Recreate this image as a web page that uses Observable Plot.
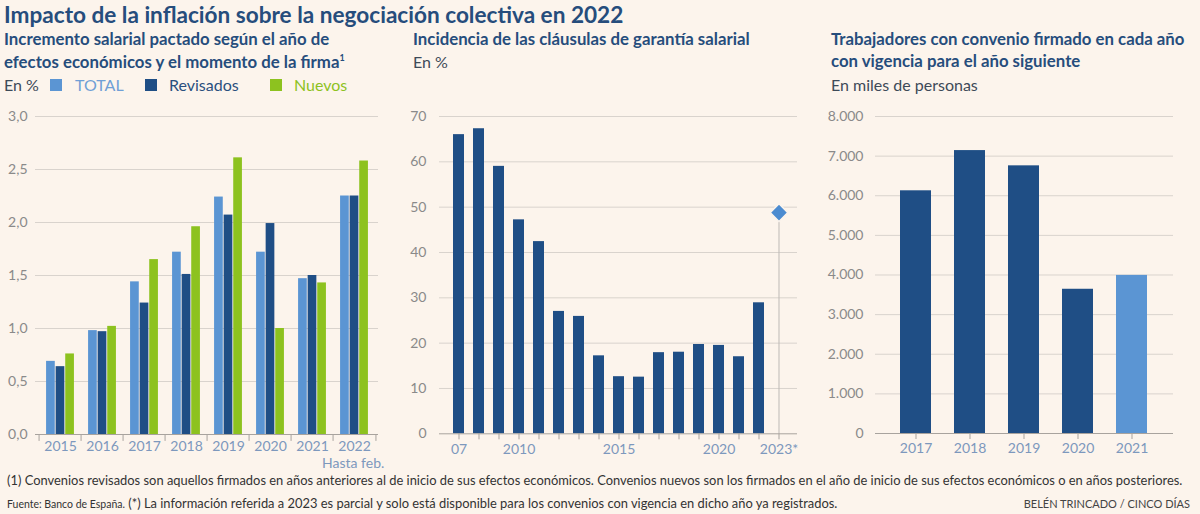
<!DOCTYPE html>
<html>
<head>
<meta charset="utf-8">
<script src="https://cdn.jsdelivr.net/npm/d3@7"></script>
<script src="https://cdn.jsdelivr.net/npm/@observablehq/plot@0.6"></script>
<style>
  html, body { margin: 0; padding: 0; }
  body { width: 1200px; height: 514px; background: #fcf4ec; position: relative; overflow: hidden; font-family: Lato, "Open Sans", sans-serif; }
  .t { position: absolute; white-space: nowrap; line-height: 1; }
  .title { font-weight: 700; font-size: 22.6px; color: #264d7c; }
  .sub { font-weight: 700; font-size: 16.8px; color: #264d7c; }
  .unit { font-size: 16px; color: #3d4a58; }
  .sw { position: absolute; width: 12px; height: 12px; }
  .foot { font-size: 12.9px; color: #333; }
  .panel { position: absolute; top: 100px; }
  .panel svg { overflow: visible; }
  [aria-label^="x-axis"] text { fill: #7d98bd; }
  [aria-label^="y-axis"] text { fill: #8a8a8a; }
  [aria-label^="x-axis"] line, [aria-label^="x-axis"] path { stroke: #a8a39e; }
</style>
</head>
<body>
<div class="t title" style="left:4px; top:4px;">Impacto de la inflación sobre la negociación colectiva en 2022</div>

<div class="t sub" style="left:4px; top:31px;">Incremento salarial pactado según el año de</div>
<div class="t sub" style="left:4px; top:53px;">efectos económicos y el momento de la firma<sup style="font-size:9px">1</sup></div>
<div class="t unit" style="left:4px; top:77px;">En %</div>
<div class="sw" style="left:50px; top:79px; background:#5b95d3;"></div>
<div class="t unit" style="left:75px; top:77px; color:#6f9fd6;">TOTAL</div>
<div class="sw" style="left:145px; top:79px; background:#1f4e85;"></div>
<div class="t unit" style="left:169px; top:77px; color:#2a4f7e;">Revisados</div>
<div class="sw" style="left:270px; top:79px; background:#8dc21f;"></div>
<div class="t unit" style="left:294px; top:77px; color:#8dc21f;">Nuevos</div>

<div class="t sub" style="left:413px; top:31px;">Incidencia de las cláusulas de garantía salarial</div>
<div class="t unit" style="left:413px; top:54px;">En %</div>

<div class="t sub" style="left:831px; top:31px;">Trabajadores con convenio firmado en cada año</div>
<div class="t sub" style="left:831px; top:53px;">con vigencia para el año siguiente</div>
<div class="t unit" style="left:831px; top:77px;">En miles de personas</div>

<div id="p1" class="panel" style="left:0px;"></div>
<div id="p2" class="panel" style="left:400px;"></div>
<div id="p3" class="panel" style="left:800px;"></div>

<div class="t" style="left:322px; top:456px; font-size:14px; color:#7d98bd;">Hasta feb.</div>

<div class="t foot" style="left:7px; top:474px;">(1) Convenios revisados son aquellos firmados en años anteriores al de inicio de sus efectos económicos. Convenios nuevos son los firmados en el año de inicio de sus efectos económicos o en años posteriores.</div>
<div class="t foot" style="left:7px; top:497px;"><span style="font-size:10.5px">Fuente: Banco de España.</span> (*) La información referida a 2023 es parcial y solo está disponible para los convenios con vigencia en dicho año ya registrados.</div>
<div class="t" style="right:10px; top:498px; font-size:11px; color:#444;">BELÉN TRINCADO / CINCO DÍAS</div>

<script>
// ---- Panel 1 data
const years1 = ["2015","2016","2017","2018","2019","2020","2021","2022"];
const total = [0.69, 0.98, 1.44, 1.72, 2.24, 1.72, 1.47, 2.25];
const revisados = [0.64, 0.97, 1.24, 1.51, 2.07, 1.99, 1.50, 2.25];
const nuevos = [0.76, 1.02, 1.65, 1.96, 2.61, 1.00, 1.43, 2.58];
const yTicks1 = [0, 0.5, 1, 1.5, 2, 2.5, 3];

// ---- Panel 2 data
const years2 = ["2007","2008","2009","2010","2011","2012","2013","2014","2015","2016","2017","2018","2019","2020","2021","2022"];
const incidencia = [66.0, 67.3, 59.0, 47.2, 42.4, 27.0, 25.9, 17.2, 12.6, 12.5, 17.9, 18.0, 19.7, 19.5, 17.0, 28.9];
const year2023 = "2023";
const incidencia2023 = 48.8;
const yTicks2 = [0, 10, 20, 30, 40, 50, 60, 70];
const xLabels2 = {"2007": "07", "2010": "2010", "2015": "2015", "2020": "2020", "2023": "2023*"};

// ---- Panel 3 data
const years3 = ["2017","2018","2019","2020","2021"];
const trabajadores = [6125, 7140, 6755, 3640, 3990];
const yTicks3 = [0, 1000, 2000, 3000, 4000, 5000, 6000, 7000, 8000];

const DARK = "#1f4e85", LIGHT = "#5b95d3", GREEN = "#8dc21f";
const GRID = "#d9d3cd", AXIS = "#a8a39e";
const commaFmt = d => d.toFixed(1).replace(".", ",");
const thousandFmt = d => d3.format(",")(d).replace(/,/g, ".");

// Panel 1
{
  const W = 390, mL = 35, mR = 12;
  const bw = (W - mL - mR) / years1.length;
  const m = bw * 0.165, w = (bw - 2 * m) / 3;
  const rows = years1.map((y, i) => ({year: y, total: total[i], revisados: revisados[i], nuevos: nuevos[i]}));
  const p = Plot.plot({
    width: W, height: 370, marginLeft: mL, marginRight: mR, marginTop: 16, marginBottom: 36,
    style: {background: "transparent", fontFamily: "Lato, sans-serif", fontSize: "14px"},
    x: {type: "band", domain: years1, padding: 0, tickSize: 0, tickPadding: 7, label: null},
    y: {domain: [0, 3], ticks: yTicks1, tickSize: 0, tickPadding: 8, tickFormat: commaFmt, label: null},
    marks: [
      Plot.ruleY(yTicks1.slice(1), {stroke: GRID}),
      Plot.barY(rows, {x: "year", y: "total", fill: LIGHT, insetLeft: m, insetRight: m + 2 * w}),
      Plot.barY(rows, {x: "year", y: "revisados", fill: DARK, insetLeft: m + w, insetRight: m + w}),
      Plot.barY(rows, {x: "year", y: "nuevos", fill: GREEN, insetLeft: m + 2 * w, insetRight: m}),
      Plot.ruleY([0], {stroke: AXIS}),
      Plot.ruleX(years1, {x: d => d, dx: -bw / 2, y1: 0, y2: -0.065, stroke: AXIS}),
      Plot.ruleX([years1[years1.length - 1]], {x: d => d, dx: bw / 2, y1: 0, y2: -0.065, stroke: AXIS})
    ]
  });
  document.getElementById("p1").append(p);
}

// Panel 2
{
  const domain2 = years2.concat([year2023]);
  const rows = years2.map((y, i) => ({year: y, v: incidencia[i]}));
  const p = Plot.plot({
    width: 400, height: 370, marginLeft: 39, marginRight: 3, marginTop: 16, marginBottom: 36.7,
    style: {background: "transparent", fontFamily: "Lato, sans-serif", fontSize: "14px"},
    x: {type: "band", domain: domain2, padding: 0.45, tickSize: 6, tickPadding: 4, tickFormat: d => xLabels2[d] || "", label: null},
    y: {domain: [0, 70], ticks: yTicks2, tickSize: 0, tickPadding: 13, label: null},
    marks: [
      Plot.ruleY(yTicks2.slice(1), {stroke: GRID}),
      Plot.barY(rows, {x: "year", y: "v", fill: DARK}),
      Plot.ruleX([{year: year2023, v: incidencia2023}], {x: "year", y1: 0, y2: "v", stroke: "#bdb9b5"}),
      Plot.dot([{year: year2023, v: incidencia2023}], {x: "year", y: "v", symbol: "diamond2", r: 8, fill: "#4b8bd0", stroke: "#fcf4ec", strokeWidth: 1.5}),
      Plot.ruleY([0], {stroke: AXIS})
    ]
  });
  document.getElementById("p2").append(p);
}

// Panel 3
{
  const rows = years3.map((y, i) => ({year: y, v: trabajadores[i], partial: i === years3.length - 1}));
  const p = Plot.plot({
    width: 400, height: 370, marginLeft: 75, marginRight: 27, marginTop: 16, marginBottom: 37,
    style: {background: "transparent", fontFamily: "Lato, sans-serif", fontSize: "14px"},
    x: {type: "band", domain: years3, padding: 0.42, tickSize: 6, tickPadding: 4, label: null},
    y: {domain: [0, 8000], ticks: yTicks3, tickSize: 0, tickPadding: 12, tickFormat: thousandFmt, label: null},
    marks: [
      Plot.ruleY(yTicks3.slice(1), {stroke: GRID}),
      Plot.barY(rows, {x: "year", y: "v", fill: d => d.partial ? LIGHT : DARK}),
      Plot.ruleY([0], {stroke: AXIS})
    ]
  });
  document.getElementById("p3").append(p);
}
</script>
</body>
</html>
